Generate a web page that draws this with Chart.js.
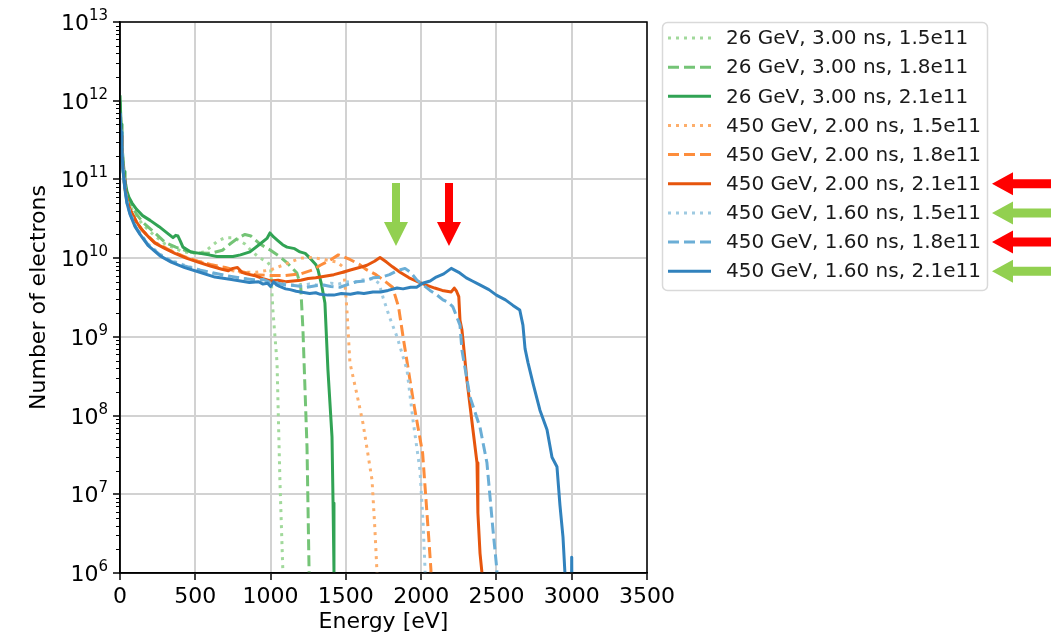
<!DOCTYPE html>
<html>
<head>
<meta charset="utf-8">
<script src="https://cdn.jsdelivr.net/npm/chart.js@4.4.1/dist/chart.umd.min.js"></script>
<style>
  body { margin: 0; background: #fff; }
  #wrap { width: 1051px; height: 637px; }
</style>
</head>
<body>
<div id="wrap"><canvas id="spectrum" width="1051" height="637"></canvas></div>
<script>
// electron energy spectra, one curve per beam setting

const labels = [
  '26 GeV, 3.00 ns, 1.5e11',
  '26 GeV, 3.00 ns, 1.8e11',
  '26 GeV, 3.00 ns, 2.1e11',
  '450 GeV, 2.00 ns, 1.5e11',
  '450 GeV, 2.00 ns, 1.8e11',
  '450 GeV, 2.00 ns, 2.1e11',
  '450 GeV, 1.60 ns, 1.5e11',
  '450 GeV, 1.60 ns, 1.8e11',
  '450 GeV, 1.60 ns, 2.1e11'
]

// energy [eV] and number of electrons for each curve
const g15E = [0, 7, 13, 20, 27, 33, 46, 60, 80, 110, 150, 220, 300, 370, 420, 500, 560, 600, 650, 700, 760, 830, 880, 930, 980, 1000, 1008, 1015, 1043, 1062, 1082, 1090]
const g15N = [8.91e11, 3.98e11, 2.4e11, 1.51e11, 1.07e11, 8.32e10, 5.89e10, 4.9e10, 4.17e10, 3.39e10, 2.69e10, 2.0e10, 1.51e10, 1.32e10, 1.2e10, 1.15e10, 1.2e10, 1.38e10, 1.66e10, 1.82e10, 1.82e10, 1.51e10, 1.2e10, 1.0e10, 8.91e9, 7.94e9, 3.98e9, 2.24e9, 4.68e8, 1.51e7, 1.0e6, 1e3]

const g18E = [0, 7, 13, 20, 27, 33, 46, 60, 80, 110, 150, 220, 300, 370, 430, 500, 600, 680, 730, 780, 830, 870, 930, 1000, 1060, 1110, 1175, 1200, 1215, 1242, 1256, 1265]
const g18N = [1.0e12, 4.47e11, 2.51e11, 1.58e11, 1.12e11, 8.91e10, 6.31e10, 5.25e10, 4.47e10, 3.63e10, 2.88e10, 2.19e10, 1.58e10, 1.38e10, 1.26e10, 1.17e10, 1.15e10, 1.26e10, 1.51e10, 1.78e10, 2.0e10, 1.91e10, 1.51e10, 1.26e10, 1.05e10, 8.71e9, 6.46e9, 4.47e9, 1.23e9, 3.98e7, 1.0e6, 1e3]

const g21E = [0, 7, 13, 20, 27, 33, 46, 60, 80, 110, 150, 200, 260, 312, 352, 370, 385, 400, 418, 470, 531, 590, 644, 700, 750, 800, 863, 930, 976, 996, 1020, 1050, 1080, 1109, 1160, 1195, 1230, 1262, 1300, 1315, 1340, 1361, 1381, 1408, 1415, 1421, 1430]
const g21N = [1.17e12, 5.01e11, 2.82e11, 1.78e11, 1.26e11, 9.77e10, 7.08e10, 5.89e10, 5.01e10, 4.17e10, 3.47e10, 3.02e10, 2.51e10, 2.09e10, 1.82e10, 1.95e10, 1.91e10, 1.66e10, 1.38e10, 1.2e10, 1.15e10, 1.1e10, 1.05e10, 1.05e10, 1.05e10, 1.1e10, 1.2e10, 1.51e10, 1.78e10, 2.09e10, 1.86e10, 1.66e10, 1.48e10, 1.38e10, 1.32e10, 1.2e10, 1.15e10, 1.0e10, 8.32e9, 7.08e9, 4.47e9, 2.69e9, 3.8e8, 5.37e7, 7.76e6, 1.1e6, 1e3]

const o15E = [0, 7, 13, 20, 27, 33, 46, 60, 80, 110, 146, 190, 232, 300, 365, 440, 518, 650, 800, 900, 1000, 1080, 1130, 1200, 1260, 1340, 1440, 1481, 1494, 1507, 1527, 1570, 1614, 1674, 1693, 1707, 1715]
const o15N = [6.03e11, 3.47e11, 2.19e11, 1.38e11, 9.77e10, 7.76e10, 5.5e10, 4.37e10, 3.63e10, 2.88e10, 2.29e10, 1.86e10, 1.58e10, 1.35e10, 1.17e10, 1.02e10, 9.12e9, 7.59e9, 6.61e9, 6.61e9, 7.08e9, 8.13e9, 8.91e9, 1.0e10, 1.02e10, 9.77e9, 8.91e9, 7.76e9, 4.79e9, 2.19e9, 4.68e8, 2.0e8, 7.94e7, 1.51e7, 3.55e6, 1.0e6, 1e3]

const o18E = [0, 7, 13, 20, 27, 33, 46, 60, 80, 110, 146, 190, 232, 300, 365, 440, 518, 600, 700, 800, 900, 1000, 1100, 1200, 1280, 1330, 1400, 1450, 1480, 1530, 1590, 1640, 1700, 1750, 1810, 1850, 1880, 1950, 2010, 2050, 2065, 2075]
const o18N = [6.31e11, 3.47e11, 2.19e11, 1.38e11, 9.77e10, 7.76e10, 5.5e10, 4.37e10, 3.63e10, 2.88e10, 2.29e10, 1.86e10, 1.58e10, 1.35e10, 1.17e10, 1.02e10, 9.12e9, 8.32e9, 7.59e9, 6.76e9, 6.17e9, 6.03e9, 6.03e9, 6.31e9, 7.08e9, 8.13e9, 9.55e9, 1.1e10, 1.05e10, 9.55e9, 8.32e9, 7.08e9, 6.17e9, 5.25e9, 4.27e9, 2.4e9, 1.0e9, 1.45e8, 3.31e7, 2.88e6, 1.1e6, 1e3]

const o21E = [0, 7, 13, 20, 27, 33, 46, 60, 80, 110, 146, 190, 232, 300, 365, 440, 518, 600, 677, 720, 750, 780, 810, 840, 890, 950, 1000, 1050, 1100, 1150, 1200, 1250, 1300, 1360, 1420, 1480, 1530, 1590, 1640, 1690, 1727, 1770, 1810, 1860, 1920, 1980, 2030, 2090, 2140, 2170, 2200, 2220, 2235, 2250, 2258, 2271, 2278, 2304, 2344, 2371, 2377, 2391, 2404, 2415]
const o21N = [6.61e11, 3.55e11, 2.24e11, 1.41e11, 1.0e11, 7.94e10, 5.62e10, 4.47e10, 3.72e10, 2.88e10, 2.29e10, 1.86e10, 1.55e10, 1.32e10, 1.15e10, 1.0e10, 8.91e9, 7.94e9, 7.24e9, 6.92e9, 7.41e9, 7.59e9, 6.61e9, 6.31e9, 6.03e9, 5.5e9, 5.13e9, 5.25e9, 5.01e9, 5.13e9, 5.25e9, 5.5e9, 5.62e9, 5.89e9, 6.17e9, 6.61e9, 7.08e9, 7.59e9, 8.13e9, 9.12e9, 1.02e10, 8.91e9, 7.76e9, 6.61e9, 5.62e9, 5.01e9, 4.57e9, 4.17e9, 3.89e9, 3.8e9, 3.72e9, 4.17e9, 3.8e9, 3.24e9, 1.62e9, 1.23e9, 9.12e8, 2.82e8, 6.61e7, 2.51e7, 5.75e6, 1.78e6, 1.0e6, 1e3]

const b15E = [0, 7, 13, 20, 27, 33, 46, 66, 100, 133, 186, 266, 340, 430, 530, 630, 750, 860, 940, 1000, 1060, 1100, 1150, 1200, 1260, 1300, 1350, 1400, 1450, 1500, 1550, 1600, 1640, 1680, 1720, 1747, 1790, 1840, 1906, 1946, 1992, 2012, 2026, 2035]
const b15N = [6.92e11, 3.98e11, 2.29e11, 1.35e11, 9.77e10, 7.76e10, 5.25e10, 3.8e10, 2.63e10, 2.09e10, 1.51e10, 1.12e10, 9.33e9, 8.13e9, 7.08e9, 6.31e9, 5.75e9, 5.37e9, 5.13e9, 4.79e9, 4.9e9, 4.68e9, 4.57e9, 4.47e9, 4.68e9, 4.57e9, 4.47e9, 4.79e9, 4.68e9, 5.01e9, 4.9e9, 5.25e9, 5.37e9, 5.5e9, 4.79e9, 3.16e9, 1.78e9, 1.0e9, 3.8e8, 8.71e7, 2.04e7, 4.68e6, 1.1e6, 1e3]

const b18E = [0, 7, 13, 20, 27, 33, 46, 66, 100, 133, 186, 266, 340, 430, 500, 600, 700, 800, 900, 950, 1000, 1050, 1100, 1170, 1240, 1300, 1350, 1400, 1460, 1520, 1570, 1630, 1680, 1740, 1790, 1840, 1893, 1930, 1972, 2020, 2059, 2100, 2145, 2180, 2211, 2258, 2271, 2324, 2391, 2437, 2477, 2503, 2512]
const b18N = [6.76e11, 3.89e11, 2.24e11, 1.32e11, 9.55e10, 7.59e10, 5.13e10, 3.72e10, 2.57e10, 2.04e10, 1.48e10, 1.1e10, 9.12e9, 7.94e9, 7.24e9, 6.61e9, 6.03e9, 5.62e9, 5.25e9, 5.37e9, 4.9e9, 4.79e9, 4.57e9, 4.47e9, 4.27e9, 4.47e9, 4.57e9, 4.37e9, 4.27e9, 4.68e9, 5.01e9, 5.13e9, 5.62e9, 5.75e9, 6.17e9, 6.92e9, 7.41e9, 6.61e9, 5.25e9, 4.47e9, 3.89e9, 3.47e9, 2.95e9, 2.75e9, 2.4e9, 1.41e9, 6.76e8, 1.74e8, 7.08e7, 2.51e7, 3.55e6, 1.1e6, 1e3]

const b21E = [0, 7, 13, 20, 27, 33, 46, 66, 100, 133, 186, 266, 340, 430, 530, 630, 740, 860, 920, 950, 980, 1000, 1020, 1040, 1060, 1100, 1130, 1170, 1200, 1260, 1300, 1330, 1380, 1420, 1470, 1530, 1580, 1620, 1680, 1730, 1780, 1840, 1880, 1930, 1970, 2010, 2060, 2100, 2150, 2200, 2250, 2300, 2340, 2390, 2450, 2500, 2560, 2610, 2655, 2676, 2690, 2710, 2743, 2789, 2836, 2869, 2902, 2922, 2942, 2955, 2965, 2992, 3000, 3008]
const b21N = [7.08e11, 3.98e11, 2.24e11, 1.32e11, 9.55e10, 7.41e10, 5.01e10, 3.63e10, 2.51e10, 2.0e10, 1.45e10, 1.07e10, 8.91e9, 7.59e9, 6.61e9, 5.75e9, 5.37e9, 4.9e9, 5.01e9, 4.68e9, 4.79e9, 4.37e9, 5.01e9, 4.57e9, 4.37e9, 4.07e9, 3.98e9, 3.8e9, 3.72e9, 3.55e9, 3.63e9, 3.47e9, 3.39e9, 3.39e9, 3.55e9, 3.47e9, 3.63e9, 3.55e9, 3.72e9, 3.72e9, 3.89e9, 4.17e9, 4.07e9, 4.27e9, 4.27e9, 4.79e9, 5.13e9, 5.75e9, 6.31e9, 7.41e9, 6.61e9, 5.62e9, 5.13e9, 4.57e9, 3.98e9, 3.39e9, 2.95e9, 2.51e9, 2.19e9, 1.41e9, 7.08e8, 4.68e8, 2.57e8, 1.17e8, 6.61e7, 2.95e7, 2.24e7, 7.24e6, 2.88e6, 1.0e6, 1e3, 1e3, 1.58e6, 1e3]

const energies = [g15E, g18E, g21E, o15E, o18E, o21E, b15E, b18E, b21E]
const counts = [g15N, g18N, g21N, o15N, o18N, o21N, b15N, b18N, b21N]

const colors = ['#a1d99b', '#74c476', '#31a354', '#fdae6b', '#fd8d3c', '#e6550d', '#9ecae1', '#6baed6', '#3182bd']
const DOT = [3, 5]
const DASH = [11, 5]
const dashes = [DOT, DASH, [], DOT, DASH, [], DOT, DASH, []]

const xTicks = [0, 500, 1000, 1500, 2000, 2500, 3000, 3500]
const yExp = [6, 7, 8, 9, 10, 11, 12, 13]

// arrows: legend rows that get one, and the two marked peaks (energy, top, tip)
const legendArrows = [[5, '#ff0000'], [6, '#92d050'], [7, '#ff0000'], [8, '#92d050']]
const peakArrows = [[1833, 9.0e10, 1.43e10, '#92d050'], [2185, 9.0e10, 1.43e10, '#ff0000']]

const datasets = labels.map((lab, i) => ({
  label: lab,
  data: energies[i].map((e, k) => ({x: e, y: counts[i][k]})),
  borderColor: colors[i],
  borderWidth: 3,
  borderDash: dashes[i],
  borderCapStyle: 'butt',
  borderJoinStyle: 'round',
  pointRadius: 0,
  fill: false,
  tension: 0,
  order: labels.length - i
}))

function arrowLeft(ctx, tx, ty, color) {
  ctx.fillStyle = color
  ctx.beginPath()
  ctx.moveTo(tx, ty)
  ctx.lineTo(tx + 21, ty - 11.5)
  ctx.lineTo(tx + 21, ty - 4.5)
  ctx.lineTo(1060, ty - 4.5)
  ctx.lineTo(1060, ty + 4.5)
  ctx.lineTo(tx + 21, ty + 4.5)
  ctx.lineTo(tx + 21, ty + 11.5)
  ctx.closePath()
  ctx.fill()
}

function arrowDown(ctx, cx, top, tip, color) {
  ctx.fillStyle = color
  ctx.beginPath()
  ctx.moveTo(cx, tip)
  ctx.lineTo(cx - 12, tip - 24)
  ctx.lineTo(cx - 4, tip - 24)
  ctx.lineTo(cx - 4, top)
  ctx.lineTo(cx + 4, top)
  ctx.lineTo(cx + 4, tip - 24)
  ctx.lineTo(cx + 12, tip - 24)
  ctx.closePath()
  ctx.fill()
}

const extras = {
  id: 'extras',
  afterDatasetsDraw(chart) {
    const {ctx, chartArea: a, scales: {x, y}} = chart
    ctx.save()
    // box round the plot
    ctx.strokeStyle = '#000'
    ctx.lineWidth = 1.5
    ctx.strokeRect(a.left, a.top, a.right - a.left, a.bottom - a.top)
    // minor ticks of the log axis
    ctx.lineWidth = 1
    for (let p = 6; p < 13; p++) {
      for (let m = 2; m < 10; m++) {
        const py = Math.round(y.getPixelForValue(m * 10 ** p)) + 0.5
        ctx.beginPath()
        ctx.moveTo(a.left - 4, py)
        ctx.lineTo(a.left, py)
        ctx.stroke()
      }
    }
    // y tick labels as powers of ten
    ctx.fillStyle = '#000'
    ctx.textAlign = 'left'
    ctx.textBaseline = 'alphabetic'
    yExp.forEach(p => {
      const py = y.getPixelForValue(10 ** p)
      ctx.font = '15px "DejaVu Sans"'
      const sw = ctx.measureText(String(p)).width
      ctx.font = '22px "DejaVu Sans"'
      const bw = ctx.measureText('10').width
      const right = 108
      ctx.fillText('10', right - sw - bw, py + 8)
      ctx.font = '15px "DejaVu Sans"'
      ctx.fillText(String(p), right - sw, py - 2)
    })
    // arrows pointing at the peaks
    peakArrows.forEach(([e, top, tip, c]) => {
      arrowDown(ctx, x.getPixelForValue(e), y.getPixelForValue(top), y.getPixelForValue(tip), c)
    })
    ctx.restore()
  },
  afterDraw(chart) {
    const ctx = chart.ctx
    ctx.save()
    // legend box
    const lx = 662.5, ly = 22.5, lw = 325, lh = 268, r = 5
    ctx.beginPath()
    ctx.moveTo(lx + r, ly)
    ctx.arcTo(lx + lw, ly, lx + lw, ly + lh, r)
    ctx.arcTo(lx + lw, ly + lh, lx, ly + lh, r)
    ctx.arcTo(lx, ly + lh, lx, ly, r)
    ctx.arcTo(lx, ly, lx + lw, ly, r)
    ctx.closePath()
    ctx.fillStyle = '#fff'
    ctx.fill()
    ctx.strokeStyle = '#d9d9d9'
    ctx.lineWidth = 1.5
    ctx.stroke()
    ctx.font = '20px "DejaVu Sans"'
    ctx.textBaseline = 'middle'
    ctx.textAlign = 'left'
    labels.forEach((lab, i) => {
      const ry = 38 + i * 29.15
      ctx.strokeStyle = colors[i]
      ctx.lineWidth = 3
      ctx.setLineDash(dashes[i])
      ctx.beginPath()
      ctx.moveTo(668, ry)
      ctx.lineTo(711, ry)
      ctx.stroke()
      ctx.setLineDash([])
      ctx.fillStyle = '#1a1a1a'
      ctx.fillText(lab, 726, ry + 1)
    })
    legendArrows.forEach(([row, c]) => arrowLeft(ctx, 992, 38 + row * 29.15, c))
    ctx.restore()
  }
}

Chart.defaults.font.family = "'DejaVu Sans', sans-serif"

const gridStyle = {
  color: '#d2d2d2',
  lineWidth: 2,
  drawTicks: true,
  tickLength: 7,
  tickColor: '#000',
  tickWidth: 1.5
}

new Chart(document.getElementById('spectrum'), {
  type: 'line',
  data: {datasets},
  options: {
    responsive: false,
    animation: false,
    devicePixelRatio: 1,
    layout: {padding: {top: 22, right: 404, bottom: 0, left: 0}},
    plugins: {legend: {display: false}, tooltip: {enabled: false}},
    scales: {
      x: {
        type: 'linear',
        min: 0,
        max: 3500,
        afterBuildTicks: s => { s.ticks = xTicks.map(v => ({value: v})) },
        afterFit: s => { s.height = 64 },
        ticks: {color: '#000', font: {size: 22}, padding: 4, maxRotation: 0, callback: v => String(v)},
        grid: gridStyle,
        border: {color: '#000', width: 1.5},
        title: {display: true, text: 'Energy [eV]', color: '#000', font: {size: 22}, padding: {top: 0, bottom: 2}}
      },
      y: {
        type: 'logarithmic',
        min: 1e6,
        max: 1e13,
        afterBuildTicks: s => { s.ticks = yExp.map(p => ({value: 10 ** p, major: true})) },
        afterFit: s => { s.width = 120 },
        ticks: {display: false},
        grid: gridStyle,
        border: {color: '#000', width: 1.5},
        title: {display: true, text: 'Number of electrons', color: '#000', font: {size: 22}, padding: {top: 26, bottom: 0}}
      }
    }
  },
  plugins: [extras]
})
</script>
</body>
</html>
